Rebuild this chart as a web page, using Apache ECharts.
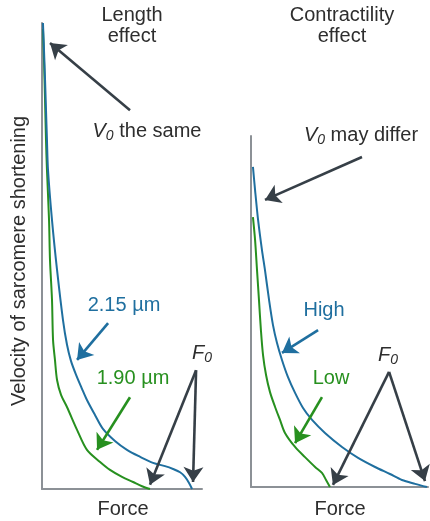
<!DOCTYPE html>
<html><head><meta charset="utf-8">
<script src="https://cdn.jsdelivr.net/npm/echarts@6/dist/echarts.min.js"></script>
<style>html,body{margin:0;padding:0;background:#fff}#c{width:430px;height:521px}</style>
</head><body><div id="c"></div>
<script>
// Length effect panel (force, velocity), arbitrary units 0-100
const lenBlue = [[0.6,100],[1.25,94.2],[1.9,87.8],[2.5,81.3],[3.1,74.9],[3.75,68.5],[6.25,57.7],[9.4,47.0],[13.1,36.3],[15.6,31.0],[18.1,27.5],[21.3,24.5],[25.0,21.5],[28.1,19.1],[33.1,15.9],[38.1,12.9],[45.6,10.3],[53.1,8.4],[61.3,6.9],[69.4,5.6],[76.9,4.9],[81.9,4.3],[86.3,3.6],[89.4,2.6],[91.9,1.3],[93.8,0]];
const lenGreen = [[0.6,98.7],[1.25,92.1],[1.9,83.5],[2.5,74.9],[3.1,68.5],[4.4,57.7],[5.0,49.1],[6.25,40.6],[6.9,32.0],[8.1,27.7],[9.4,23.4],[11.9,20.2],[15.6,17.6],[21.9,12.7],[28.1,8.4],[36.3,5.8],[42.5,4.1],[50.0,2.6],[56.9,1.5],[62.5,0.6],[67.5,0]];
// Contractility effect panel
const conHigh = [[1.1,91.2],[2.3,84.6],[4.0,76.1],[6.2,67.5],[7.9,61.8],[10.2,53.3],[12.4,46.2],[14.7,41.0],[17.5,36.2],[20.9,31.3],[24.9,26.8],[29.4,22.5],[34.5,19.1],[41.8,15.4],[51.4,11.4],[60.5,8.3],[70.1,5.7],[78.5,3.7],[85.3,2.0],[92.7,0.9],[99.4,0]];
const conLow = [[1.1,76.9],[2.3,70.4],[3.4,61.8],[4.5,53.3],[5.6,44.7],[6.8,37.6],[8.5,31.9],[10.7,27.1],[13.6,22.8],[16.4,19.1],[19.2,15.4],[24.9,11.4],[30.5,8.5],[36.2,5.7],[40.1,4.0],[42.4,2.0],[44.6,0]];
// Annotation arrows [from, to] in data units
const lenArrowsDark = [[[55,81.3],[5,95.7]],[[96.3,25.5],[67.5,0.9]],[[96.3,25.5],[94.4,1.5]]];
const lenArrowBlue = [[41.3,35.6],[21.9,27.7]];
const lenArrowGreen = [[55,19.7],[34.4,8.4]];
const conArrowsDark = [[[62.7,94.0],[7.9,81.8]],[[78.0,32.8],[46.3,0.6]],[[78.0,32.8],[98.3,1.7]]];
const conArrowBlue = [[37.9,44.7],[17.5,38.2]];
const conArrowGreen = [[40.1,25.6],[24.9,12.5]];

const BLUE = '#1f6f9f', GREEN = '#27901f', DARK = '#363f47', AXIS = '#8c9196', TXT = '#2e2e2e';
const FONT = 'Liberation Sans';

function arrows(list, color) {
  return {
    silent: true, animation: false,
    symbol: ['none', 'arrow'], symbolSize: 15,
    label: { show: false },
    lineStyle: { color: color, width: 2.6, type: 'solid' },
    emphasis: { disabled: true },
    data: list.map(p => [{ coord: p[0] }, { coord: p[1] }])
  };
}
function axisX(gi) {
  return { type: 'value', gridIndex: gi, min: 0, max: 100,
    axisLine: { show: true, lineStyle: { color: AXIS, width: 2 } },
    axisTick: { show: false }, axisLabel: { show: false }, splitLine: { show: false } };
}
function axisY(gi) {
  return { type: 'value', gridIndex: gi, min: 0, max: 100,
    axisLine: { show: true, lineStyle: { color: AXIS, width: 2 } },
    axisTick: { show: false }, axisLabel: { show: false }, splitLine: { show: false } };
}
function txt(x, y, s, color, size, rich) {
  return { type: 'text', x: x, y: y, style: { text: s, fill: color, font: size + 'px "' + FONT + '"',
    fontFamily: FONT, fontSize: size, align: 'center', verticalAlign: 'middle', rich: rich } };
}
const v0rich = {
  v: { fontStyle: 'italic', fontSize: 20, fontFamily: FONT, fill: TXT, lineHeight: 24 },
  s: { fontStyle: 'italic', fontSize: 14, fontFamily: FONT, fill: TXT, lineHeight: 10, verticalAlign: 'bottom' },
  t: { fontSize: 20, fontFamily: FONT, fill: TXT, lineHeight: 24 }
};

const chart = echarts.init(document.getElementById('c'), null, { renderer: 'canvas' });
chart.setOption({
  animation: false,
  backgroundColor: '#fff',
  grid: [
    { left: 42, top: 23, width: 160, height: 466 },
    { left: 251, top: 136, width: 177, height: 351 }
  ],
  xAxis: [axisX(0), axisX(1)],
  yAxis: [axisY(0), axisY(1)],
  series: [
    { type: 'line', xAxisIndex: 0, yAxisIndex: 0, data: lenBlue, showSymbol: false, smooth: 0.3,
      lineStyle: { color: BLUE, width: 2 }, z: 3, markLine: arrows(lenArrowsDark, DARK) },
    { type: 'line', xAxisIndex: 0, yAxisIndex: 0, data: lenGreen, showSymbol: false, smooth: 0.3,
      lineStyle: { color: GREEN, width: 2 }, z: 2, markLine: arrows([lenArrowGreen], GREEN) },
    { type: 'line', xAxisIndex: 0, yAxisIndex: 0, data: [], markLine: arrows([lenArrowBlue], BLUE) },
    { type: 'line', xAxisIndex: 1, yAxisIndex: 1, data: conHigh, showSymbol: false, smooth: 0.3,
      lineStyle: { color: BLUE, width: 2 }, z: 3, markLine: arrows(conArrowsDark, DARK) },
    { type: 'line', xAxisIndex: 1, yAxisIndex: 1, data: conLow, showSymbol: false, smooth: 0.3,
      lineStyle: { color: GREEN, width: 2 }, z: 2, markLine: arrows([conArrowGreen], GREEN) },
    { type: 'line', xAxisIndex: 1, yAxisIndex: 1, data: [], markLine: arrows([conArrowBlue], BLUE) }
  ],
  graphic: [
    txt(132, 15, 'Length', TXT, 20), txt(132, 36, 'effect', TXT, 20),
    txt(342, 15, 'Contractility', TXT, 20), txt(342, 36, 'effect', TXT, 20),
    txt(147, 131, '{v|V}{s|0}{t| the same}', TXT, 20, v0rich),
    txt(361, 135, '{v|V}{s|0}{t| may differ}', TXT, 20, v0rich),
    txt(124, 305, '2.15 µm', BLUE, 20), txt(133, 378, '1.90 µm', GREEN, 20),
    txt(202, 353, '{v|F}{s|0}', TXT, 20, v0rich), txt(388, 355, '{v|F}{s|0}', TXT, 20, v0rich),
    txt(324, 310, 'High', BLUE, 20), txt(331, 378, 'Low', GREEN, 20),
    txt(123, 509, 'Force', TXT, 20), txt(340, 509, 'Force', TXT, 20),
    { type: 'text', x: 19, y: 261, rotation: Math.PI / 2,
      style: { text: 'Velocity of sarcomere shortening', fill: TXT, fontFamily: FONT, fontSize: 20,
        align: 'center', verticalAlign: 'middle' } }
  ]
});
</script></body></html>
